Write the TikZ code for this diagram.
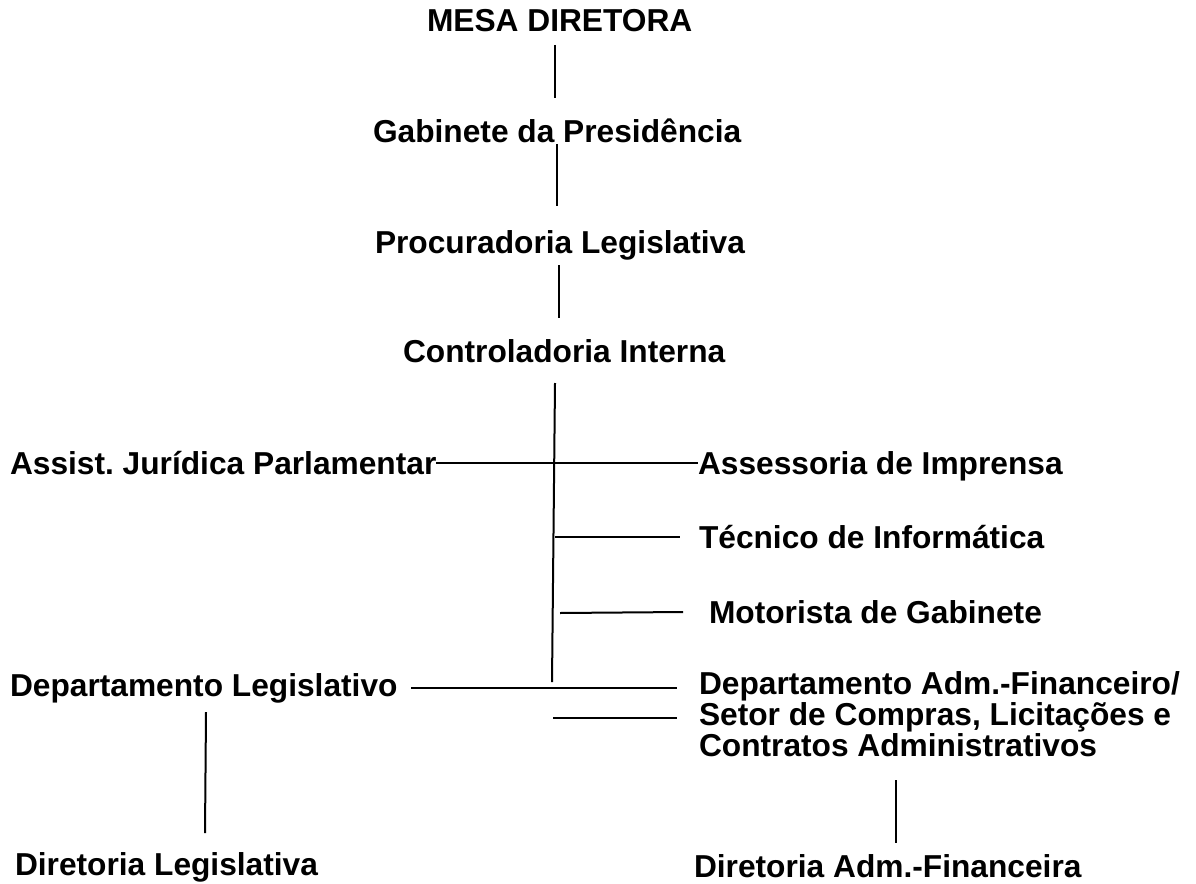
\documentclass[tikz,border=0pt]{standalone}
\usepackage{fontspec}
\setmainfont{Liberation Sans}
\frenchspacing
\begin{document}
\begin{tikzpicture}[x=1pt,y=-1pt,
  lbl/.style={inner sep=0pt,outer sep=0pt,anchor=base west,font=\bfseries\fontsize{31.7}{31}\selectfont},
  conn/.style={line width=2pt,draw=black}]
\useasboundingbox (0,0) rectangle (1196,883);
% nodes
\node[lbl] (mesa) at (427,32) {MESA DIRETORA};
\node[lbl] (gab) at (373,142) {Gabinete da Presidência};
\node[lbl] (proc) at (375,253) {Procuradoria Legislativa};
\node[lbl] (ctrl) at (403,362) {Controladoria Interna};
\node[lbl] (assist) at (10,474) {Assist. Jurídica Parlamentar};
\node[lbl] (asses) at (698,474) {Assessoria de Imprensa};
\node[lbl] (tec) at (699,548) {Técnico de Informática};
\node[lbl] (mot) at (709,623) {Motorista de Gabinete};
\node[lbl] (deplg) at (10,696) {Departamento Legislativo};
\node[lbl,align=left,anchor=north west] (depadm) at (699,672) {Departamento Adm.-Financeiro/\\Setor de Compras, Licitações e\\Contratos Administrativos};
\node[lbl] (dirlg) at (15,875) {Diretoria Legislativa};
\node[lbl] (diradm) at (694,877) {Diretoria Adm.-Financeira};
% connector end points
\coordinate (a1) at (555,45);  \coordinate (a2) at (555,98);
\coordinate (b1) at (557,144); \coordinate (b2) at (557,206);
\coordinate (c1) at (559,265); \coordinate (c2) at (559,318);
\coordinate (m1) at (555,383); \coordinate (m2) at (552,682);
\coordinate (t1) at (555,537); \coordinate (t2) at (680,537);
\coordinate (o1) at (560,613); \coordinate (o2) at (683,612);
\coordinate (d1) at (411,688); \coordinate (d2) at (677,688);
\coordinate (s1) at (553,718); \coordinate (s2) at (677,718);
\coordinate (l1) at (206,712); \coordinate (l2) at (205,833);
\coordinate (f1) at (896,780); \coordinate (f2) at (896,843);
% connectors
\draw[conn] (a1) -- (a2);
\draw[conn] (b1) -- (b2);
\draw[conn] (c1) -- (c2);
\draw[conn] (m1) -- (m2);
\draw[conn] (assist.east |- 0,463) -- (asses.west |- 0,463);
\draw[conn] (t1) -- (t2);
\draw[conn] (o1) -- (o2);
\draw[conn] (d1) -- (d2);
\draw[conn] (s1) -- (s2);
\draw[conn] (l1) -- (l2);
\draw[conn] (f1) -- (f2);
\end{tikzpicture}
\end{document}
